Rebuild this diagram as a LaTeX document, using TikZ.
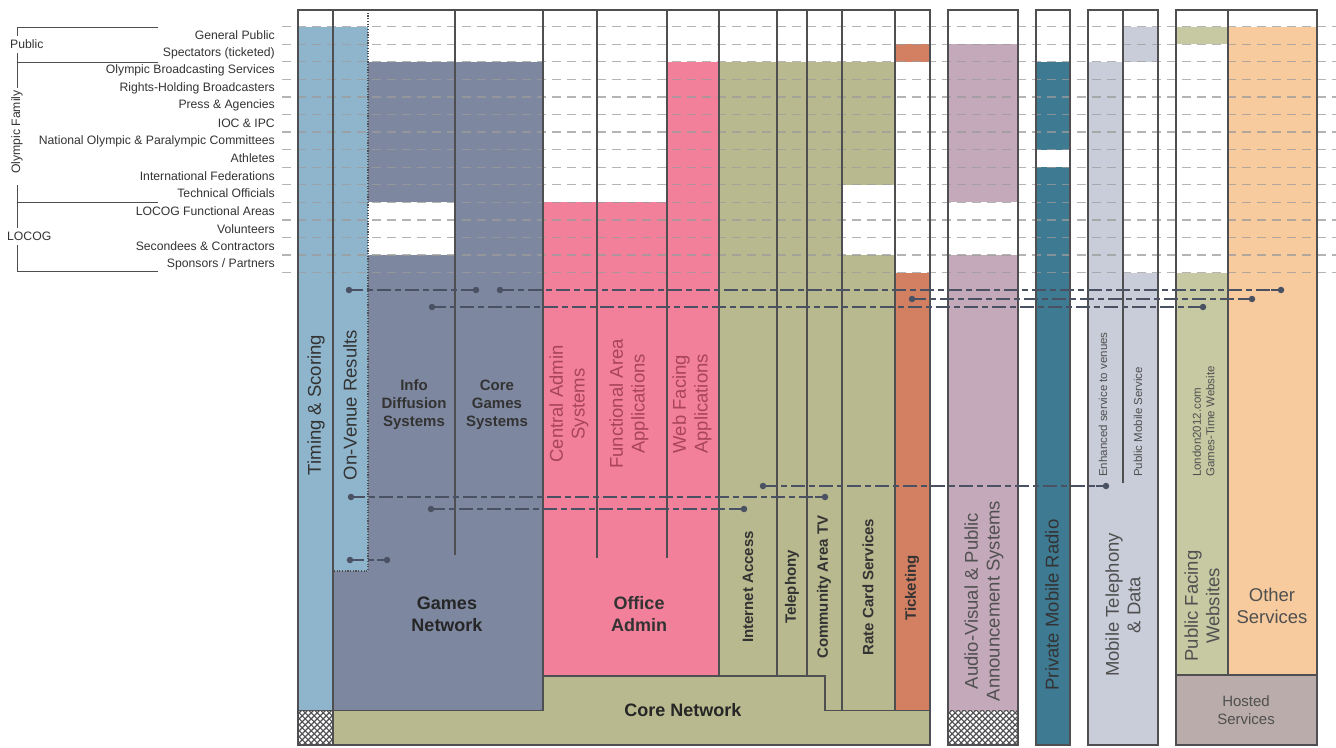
\documentclass[tikz,border=0pt]{standalone}
\usepackage{fontspec}
\setmainfont{Liberation Sans}
\definecolor{tsblue}{HTML}{8FB5CC}
\definecolor{gnet}{HTML}{7D879F}
\definecolor{pinkc}{HTML}{F3809A}
\definecolor{olivec}{HTML}{B8B98E}
\definecolor{tick}{HTML}{D27F62}
\definecolor{avm}{HTML}{C3A9B9}
\definecolor{pmr}{HTML}{3F7A93}
\definecolor{mtl}{HTML}{C9CDD9}
\definecolor{pfw}{HTML}{C6C9A2}
\definecolor{oth}{HTML}{F8CB9E}
\definecolor{host}{HTML}{B9ACAA}
\definecolor{bdc}{HTML}{4F4F52}
\definecolor{conc}{HTML}{4A5163}
\definecolor{rowc}{HTML}{9C9C9C}
\definecolor{pinktxt}{HTML}{A8445B}
\definecolor{txt}{HTML}{333333}
\definecolor{gtxt}{HTML}{505050}
\newcommand\myhatch[4]{%
  \begin{scope}
    \clip (#1,#2) rectangle (#3,#4);
    \fill[white] (#1,#2) rectangle (#3,#4);
    \foreach \s in {-60,-54,...,90} {
      \draw[hatchline] ({#1+\s},{#2-5}) -- ++(50,50);
      \draw[hatchline] ({#1+\s},{#4+5}) -- ++(50,-50);
    }
  \end{scope}}
\begin{document}
\begin{tikzpicture}[x=1pt,y=-1pt,
  bd/.style={draw=bdc, line width=1.1pt},
  brk/.style={draw=bdc, line width=1pt},
  rowline/.style={draw=rowc, line width=1.3pt, dash pattern=on 9pt off 6pt, opacity=0.75},
  hatchline/.style={draw=bdc, line width=1.1pt},
  conn/.style={draw=conc, line width=1.2pt, dash pattern=on 14pt off 4pt on 6pt off 4pt},
  connsolid/.style={draw=conc, line width=1.2pt},
  dot/.style={circle, fill=conc, inner sep=0pt, minimum size=6.5pt},
  rl/.style={anchor=east, inner sep=0pt, text=txt, font=\fontsize{12.2}{14}\selectfont},
  gl/.style={anchor=west, inner sep=0pt, text=txt, font=\fontsize{12.2}{14}\selectfont},
  vb/.style={rotate=90, align=center, inner sep=0pt, font=\fontsize{18.5}{21.7}\selectfont},
  hb/.style={align=center, inner sep=0pt, font=\bfseries\fontsize{15}{18}\selectfont},
  vo/.style={rotate=90, inner sep=0pt, text=txt, font=\bfseries\fontsize{15}{18}\selectfont},
  nb/.style={align=center, inner sep=0pt, font=\bfseries\fontsize{18}{21.7}\selectfont},
  sm/.style={rotate=90, anchor=west, align=left, inner sep=0pt, text=gtxt, font=\fontsize{11.5}{13.3}\selectfont}
]
\useasboundingbox (0,0) rectangle (1336,747);
\fill[white] (0,0) rectangle (1336,747);

% ---------- fills ----------
\fill[tsblue] (298,26.7) rectangle (333,710.7);
\fill[tsblue] (333,26.7) rectangle (368,571);
\fill[gnet] (368,61.84) rectangle (543,202.41);
\fill[gnet] (455,202.41) rectangle (543,255.13);
\fill[gnet] (368,255.13) rectangle (543,710.7);
\fill[gnet] (333,571) rectangle (368,710.7);
\fill[pinkc] (543,202.41) rectangle (667,676);
\fill[pinkc] (667,61.84) rectangle (719,676);
\fill[olivec] (719,61.84) rectangle (842,676);
\fill[olivec] (807,61.84) rectangle (842,710.7);
\fill[olivec] (842,61.84) rectangle (895,184.84);
\fill[olivec] (842,255.13) rectangle (895,710.7);
\fill[olivec] (333,710.7) -- (543,710.7) -- (543,676) -- (825,676) -- (825,710.7) -- (930,710.7) -- (930,745) -- (333,745) -- cycle;
\fill[tick] (895,44.27) rectangle (930,61.84);
\fill[tick] (895,272.7) rectangle (930,710.7);
\myhatch{298}{710.7}{333}{745}
\fill[avm] (948,44.27) rectangle (1018,202.41);
\fill[avm] (948,255.13) rectangle (1018,710.7);
\myhatch{948}{710.7}{1018}{745}
\fill[pmr] (1036,61.84) rectangle (1070,149.7);
\fill[pmr] (1036,167.27) rectangle (1070,745);
\fill[mtl] (1088,61.84) rectangle (1123,745);
\fill[mtl] (1123,26.7) rectangle (1158,61.84);
\fill[mtl] (1123,272.7) rectangle (1158,745);
\fill[pfw] (1176,26.7) rectangle (1228,44.27);
\fill[pfw] (1176,272.7) rectangle (1228,675);
\fill[oth] (1228,26.7) rectangle (1317,675);
\fill[host] (1176,675) rectangle (1317,745);

% ---------- row lines ----------
\foreach \i in {0,...,14} {
  \draw[rowline] (282,{26.7+17.571*\i}) -- (1336,{26.7+17.571*\i});
}

% ---------- borders ----------
\draw[bd] (298,10) rectangle (930,745);
\draw[bd] (333,10) -- (333,745);
\draw[draw=bdc, line width=1.2pt, dash pattern=on 1.2pt off 1.5pt] (368,10) -- (368,571) -- (333,571);
\draw[bd] (455,10) -- (455,555);
\draw[bd] (543,10) -- (543,710.7);
\draw[bd] (298,710.7) -- (543,710.7);
\draw[bd] (597,10) -- (597,558);
\draw[bd] (667,10) -- (667,558);
\draw[bd] (719,10) -- (719,676);
\draw[bd] (777,10) -- (777,676);
\draw[bd] (807,10) -- (807,676);
\draw[bd] (543,676) -- (825,676) -- (825,710.7) -- (930,710.7);
\draw[bd] (842,10) -- (842,710.7);
\draw[bd] (895,10) -- (895,710.7);
\draw[bd] (948,10) rectangle (1018,745);
\draw[bd] (1036,10) rectangle (1070,745);
\draw[bd] (1088,10) rectangle (1158,745);
\draw[bd] (1123,10) -- (1123,483);
\draw[bd] (1176,10) rectangle (1317,745);
\draw[bd] (1228,10) -- (1228,675);
\draw[bd] (1176,675) -- (1317,675);

% ---------- left labels ----------
\foreach \t [count=\i from 0] in {General Public, Spectators (ticketed), Olympic Broadcasting Services, Rights-Holding Broadcasters, Press \& Agencies, IOC \& IPC, National Olympic \& Paralympic Committees, Athletes, International Federations, Technical Officials, LOCOG Functional Areas, Volunteers, Secondees \& Contractors, Sponsors / Partners} {
  \node[rl] (r\i) at (275,{35.49+17.571*\i}) {\t};
}
\node[gl] (gpub) at (10,44) {Public};
\node[rl, anchor=center, rotate=90] (goly) at (17,132) {Olympic Family};
\node[gl] (gloc) at (7,236.7) {LOCOG};
\draw[brk] (158,27.3) -- (17,27.3) -- (17,36);
\draw[brk] (17,53) -- (17,62.3);
\draw[brk] (158,62.3) -- (17,62.3) -- (17,88);
\draw[brk] (17,185) -- (17,202.3);
\draw[brk] (158,202.3) -- (17,202.3) -- (17,228);
\draw[brk] (17,245) -- (17,271.7) -- (158,271.7);

% ---------- connectors ----------
\node[dot] (c1a) at (349,290) {};  \node[dot] (c1b) at (476,290) {};
\node[dot] (c2a) at (500,290) {};  \node[dot] (c2b) at (1281,290) {};
\node[dot] (c3a) at (912,299) {};  \node[dot] (c3b) at (1252,299) {};
\node[dot] (c4a) at (432,307) {};  \node[dot] (c4b) at (1203,307) {};
\node[dot] (c5a) at (763,486) {};  \node[dot] (c5b) at (1106,486) {};
\node[dot] (c6a) at (351,497) {};  \node[dot] (c6b) at (825,497) {};
\node[dot] (c7a) at (431,509) {};  \node[dot] (c7b) at (744,509) {};
\node[dot] (c8a) at (350,560) {};  \node[dot] (c8b) at (387,560) {};
\foreach \c in {c1,c2,c3,c4,c5,c6,c7,c8} {
  \draw[conn] (\c a.center) -- (\c b.center);
  \draw[connsolid] (\c a.center) -- ++(14,0);
  \draw[connsolid] (\c b.center) -- ++(-10,0);
}

% ---------- column labels ----------
\node[vb, text=txt] (lts) at (316,405) {Timing \& Scoring};
\node[vb, text=txt] (lov) at (350,405) {On-Venue Results};
\node[hb, text=txt] (lid) at (414,404.7) {Info\\Diffusion\\Systems};
\node[hb, text=txt] (lcg) at (497,404.7) {Core\\Games\\Systems};
\node[vb, text=pinktxt] (lca) at (569,404) {Central Admin\\Systems};
\node[vb, text=pinktxt] (lfa) at (629,404) {Functional Area\\Applications};
\node[vb, text=pinktxt] (lwf) at (692,404) {Web Facing\\Applications};
\node[nb, text=black!85] (lgn) at (447,614) {Games\\Network};
\node[nb, text=black!80] (loa) at (639,614) {Office\\Admin};
\node[nb, text=black!85] (lcn) at (683,710) {Core Network};
\node[vo] (lia) at (748,587) {Internet Access};
\node[vo] (ltp) at (792,587) {Telephony};
\node[vo] (lct) at (824,587) {Community Area TV};
\node[vo] (lrc) at (868,587) {Rate Card Services};
\node[vo] (ltk) at (912,588) {Ticketing};
\node[vb, text=gtxt] (lav) at (984,601) {Audio-Visual \& Public\\Announcement Systems};
\node[vb, text=black!80] (lpm) at (1052,605) {Private Mobile Radio};
\node[vb, text=gtxt] (lmt) at (1123,605) {Mobile Telephony\\\& Data};
\node[vb, text=gtxt] (lpf) at (1202,606) {Public Facing\\Websites};
\node[align=center, inner sep=0pt, text=gtxt, font=\fontsize{18.5}{21.7}\selectfont] (los) at (1272,606) {Other\\Services};
\node[hb, font=\fontsize{15}{17.6}\selectfont, text=gtxt] (lhs) at (1246,710) {Hosted\\Services};
\node[sm] (les) at (1103,477) {Enhanced service to venues};
\node[sm] (lpms) at (1138,477) {Public Mobile Service};
\node[sm] (llw) at (1203.5,477) {London2012.com\\Games-Time Website};
\end{tikzpicture}
\end{document}
